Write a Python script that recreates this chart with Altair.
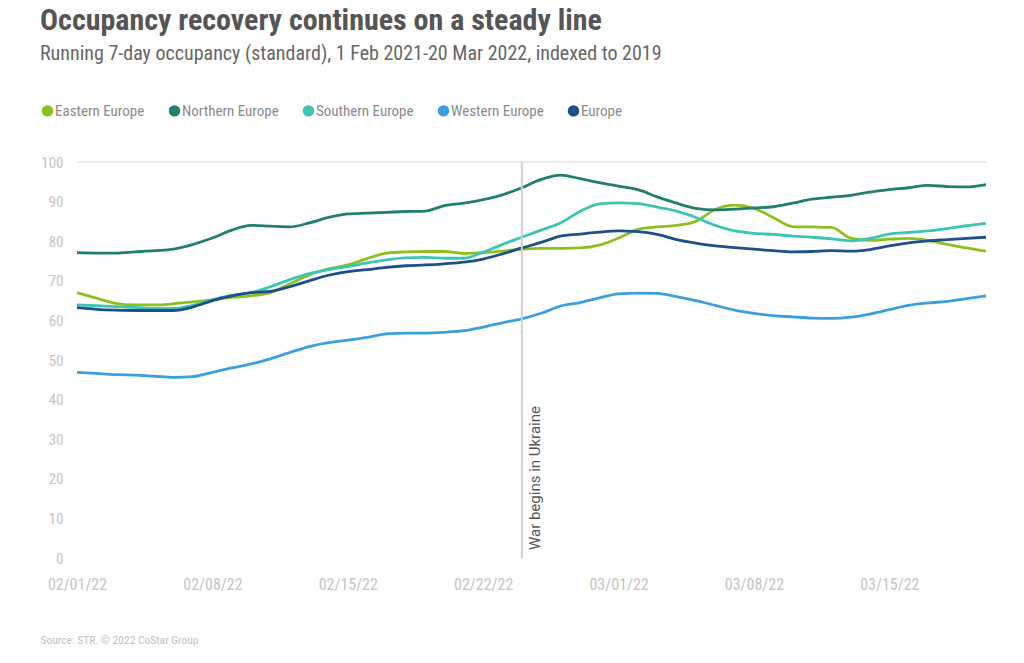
import altair as alt
import pandas as pd

start_date = "2022-02-01"
n_days = 48

regions = ["Eastern Europe", "Northern Europe", "Southern Europe", "Western Europe", "Europe"]
colors = ["#8cc11d", "#217f70", "#3cc4b4", "#3b9ee0", "#1d4f8a"]

eastern = [67.0, 65.6, 64.3, 63.9, 63.9, 64.2, 64.7, 65.2, 65.8, 66.2, 67.0, 69.2, 71.5, 73.0, 74.0, 75.6,
           77.0, 77.3, 77.4, 77.4, 76.9, 77.1, 77.5, 78.0, 78.2, 78.2, 78.3, 79.0, 80.8, 83.0, 83.6, 84.0,
           85.0, 88.0, 89.1, 88.3, 86.0, 83.7, 83.6, 83.5, 80.8, 80.2, 80.5, 80.7, 80.2, 79.2, 78.3, 77.4]
northern = [77.1, 77.0, 77.0, 77.3, 77.6, 78.0, 79.2, 80.8, 82.8, 84.0, 83.8, 83.6, 84.6, 86.0, 86.9, 87.1,
            87.3, 87.5, 87.6, 89.0, 89.6, 90.5, 91.7, 93.5, 95.6, 96.7, 95.8, 94.8, 93.9, 93.0, 91.2, 89.6,
            88.3, 87.9, 88.1, 88.4, 88.7, 89.6, 90.6, 91.1, 91.6, 92.4, 93.0, 93.5, 94.1, 93.8, 93.7, 94.3]
southern = [63.9, 63.7, 63.5, 63.3, 63.0, 63.0, 63.8, 65.2, 66.3, 67.0, 68.5, 70.3, 71.8, 72.8, 73.6, 74.5,
            75.3, 75.8, 75.9, 75.7, 75.7, 77.2, 79.2, 81.0, 82.8, 84.6, 87.5, 89.4, 89.7, 89.5, 88.6, 87.6,
            86.0, 84.0, 82.6, 82.0, 81.7, 81.3, 81.0, 80.6, 80.1, 80.7, 81.8, 82.2, 82.6, 83.2, 83.9, 84.5]
western = [46.9, 46.6, 46.3, 46.2, 45.9, 45.6, 45.8, 46.9, 48.0, 49.0, 50.3, 51.9, 53.4, 54.4, 55.0, 55.7,
           56.6, 56.8, 56.8, 57.0, 57.4, 58.3, 59.4, 60.4, 61.8, 63.6, 64.5, 65.7, 66.7, 66.9, 66.8, 66.0,
           65.0, 63.8, 62.6, 61.8, 61.2, 60.9, 60.6, 60.5, 60.8, 61.6, 62.7, 63.8, 64.4, 64.8, 65.5, 66.2]
europe = [63.2, 62.8, 62.6, 62.5, 62.5, 62.5, 63.4, 65.0, 66.2, 67.0, 67.3, 68.5, 70.0, 71.4, 72.3, 72.8,
          73.4, 73.8, 74.0, 74.3, 74.7, 75.5, 76.8, 78.3, 79.7, 81.3, 81.8, 82.3, 82.6, 82.4, 81.7, 80.4,
          79.5, 78.8, 78.4, 78.0, 77.6, 77.3, 77.4, 77.6, 77.5, 77.9, 78.8, 79.6, 80.1, 80.4, 80.7, 81.0]

tick_dates = ["2022-02-01", "2022-02-08", "2022-02-15", "2022-02-22", "2022-03-01", "2022-03-08", "2022-03-15"]
y_ticks = [0, 10, 20, 30, 40, 50, 60, 70, 80, 90, 100]
event_date = "2022-02-24"
event_label = "War begins in Ukraine"

dates = pd.date_range(start_date, periods=n_days, freq="D").strftime("%Y-%m-%d").tolist()
series = [eastern, northern, southern, western, europe]
rows = []
for name, vals in zip(regions, series):
    for d, v in zip(dates, vals):
        rows.append({"date": d, "region": name, "value": v})
df = pd.DataFrame(rows)

FONT = "Roboto Condensed, Liberation Sans Narrow, DejaVu Sans Condensed, Roboto"

def dt(s):
    y, m, d = map(int, s.split("-"))
    return alt.DateTime(year=y, month=m, date=d, utc=True)

x_scale = alt.Scale(type="utc", domain=[dt(dates[0]), dt(dates[-1])])
y_scale = alt.Scale(domain=[0, 100])

x_axis = alt.Axis(values=[dt(t) for t in tick_dates],
                  labelExpr="utcFormat(datum.value, '%m/%d/%y')",
                  grid=False, ticks=False, domain=False, labelPadding=18,
                  labelColor="#c4c4c4", labelFontSize=16, labelFont=FONT,
                  labelOverlap=False, labelFlush=False, labelAlign="center",
                  title="Source: STR. \u00a9 2022 CoStar Group",
                  titleAnchor="start", titleAlign="left", titleX=-37, titleY=82,
                  titleFontSize=11.5, titleFontWeight="normal", titleColor="#c0c0c0",
                  titleFont=FONT, titleBaseline="middle")
y_axis = alt.Axis(values=y_ticks, grid=False, labelOverlap=False, labelFlush=False,
                  ticks=False, domain=False, labelPadding=14, labelColor="#c4c4c4",
                  labelFontSize=15, labelFont=FONT, title=None)

lines = alt.Chart(df).mark_line(strokeWidth=2.8, interpolate="monotone").encode(
    x=alt.X("date:T", scale=x_scale, axis=x_axis),
    y=alt.Y("value:Q", scale=y_scale, axis=y_axis),
    color=alt.Color("region:N", scale=alt.Scale(domain=regions, range=colors),
                    legend=alt.Legend(title=None, orient="none", legendX=-37, legendY=-59,
                                      direction="horizontal", symbolType="circle",
                                      symbolSize=30, symbolStrokeWidth=6,
                                      labelFontSize=15, labelColor="#8a8a8a", labelFont=FONT,
                                      columnPadding=14, labelOffset=0)),
)

top_grid = alt.Chart(pd.DataFrame({"v": [100]})).mark_rule(color="#e6e6e6", strokeWidth=1.5).encode(
    y=alt.Y("v:Q", scale=y_scale, axis=y_axis)
)

event_df = pd.DataFrame({"date": [event_date], "label": [event_label], "y0": [0], "y1": [100], "ty": [2]})
event_rule = alt.Chart(event_df).mark_rule(color="#cfcfcf", strokeWidth=2).encode(
    x=alt.X("date:T", scale=x_scale, axis=x_axis),
    y=alt.Y("y0:Q", scale=y_scale, axis=y_axis), y2="y1:Q"
)
event_text = alt.Chart(event_df).mark_text(angle=270, align="left", baseline="top", dy=6,
                                           fontSize=15, color="#555555", font="Roboto").encode(
    x=alt.X("date:T", scale=x_scale, axis=x_axis),
    y=alt.Y("ty:Q", scale=y_scale, axis=y_axis),
    text="label:N"
)

chart = alt.layer(lines, top_grid, event_rule, event_text).properties(
    width=909, height=396,
    background="white",
    autosize=alt.AutoSizeParams(type="none"),
    padding={"left": 69, "top": 154, "right": 20, "bottom": 95},
    title=alt.TitleParams(
        text="Occupancy recovery continues on a steady line",
        subtitle="Running 7-day occupancy (standard), 1 Feb 2021-20 Mar 2022, indexed to 2019",
        anchor="start", frame="group", dx=-37, offset=39,
        font=FONT, fontSize=30, fontWeight="bold", color="#555555",
        subtitleFont=FONT, subtitleFontSize=20, subtitleColor="#666666", subtitlePadding=8,
    ),
).configure_view(strokeWidth=0)

chart.save("out.html", embed_options={"renderer": "svg", "actions": False})
